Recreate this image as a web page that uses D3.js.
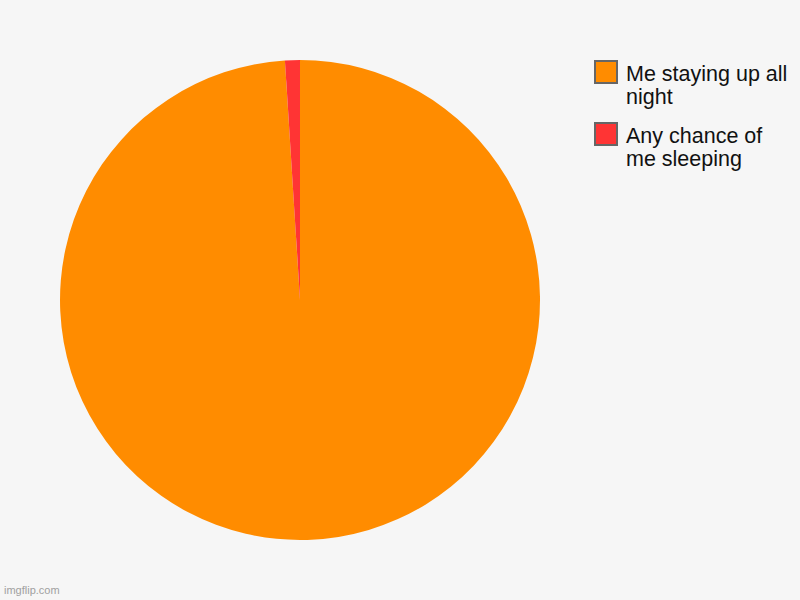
<!DOCTYPE html>
<html>
<head>
<meta charset="utf-8">
<script src="https://cdn.jsdelivr.net/npm/d3@7/dist/d3.min.js"></script>
<style>
  html, body { margin: 0; padding: 0; background: #f6f6f6; }
  svg { display: block; font-family: "Liberation Sans", Arial, sans-serif; }
</style>
</head>
<body>
<div id="chart"></div>
<script>
// Data
const labels = ["Me staying up all night", "Any chance of me sleeping"];
const legendLines = [["Me staying up all", "night"], ["Any chance of", "me sleeping"]];
const values = [99, 1];
const colors = ["#ff8c00", "#ff3434"];

const width = 800,
    height = 600,
    cx = 300,
    cy = 300,
    radius = 240;

const svg = d3.select("#chart")
    .append("svg")
    .attr("width", width)
    .attr("height", height);

svg.append("rect")
    .attr("width", width)
    .attr("height", height)
    .attr("fill", "#f6f6f6");

const pie = d3.pie().sort(null).value(d => d.value);
const arc = d3.arc().innerRadius(0).outerRadius(radius);

const slices = labels.map((l, i) => ({ label: l, value: values[i], color: colors[i] }));

const g = svg.append("g")
    .attr("transform", `translate(${cx}, ${cy})`);

g.selectAll("path")
    .data(pie(slices))
    .join("path")
        .attr("d", arc)
        .attr("fill", d => d.data.color);

// legend
const legend = svg.append("g")
    .attr("transform", "translate(595, 61)");

const item = legend.selectAll("g")
    .data(slices)
    .join("g")
        .attr("transform", (d, i) => `translate(0, ${i * 62})`);

item.append("rect")
    .attr("width", 22)
    .attr("height", 22)
    .attr("fill", d => d.color)
    .attr("stroke", "#666")
    .attr("stroke-width", 2);

item.append("text")
    .attr("font-size", "21.5px")
    .attr("fill", "#111")
    .selectAll("tspan")
    .data((d, i) => legendLines[i])
    .join("tspan")
        .attr("x", 31)
        .attr("y", (d, j) => 20 + j * 23)
        .text(d => d);

// watermark
svg.append("text")
    .attr("x", 4)
    .attr("y", 594)
    .attr("font-size", "11px")
    .attr("fill", "#a0a0a0")
    .text("imgflip.com");
</script>
</body>
</html>
